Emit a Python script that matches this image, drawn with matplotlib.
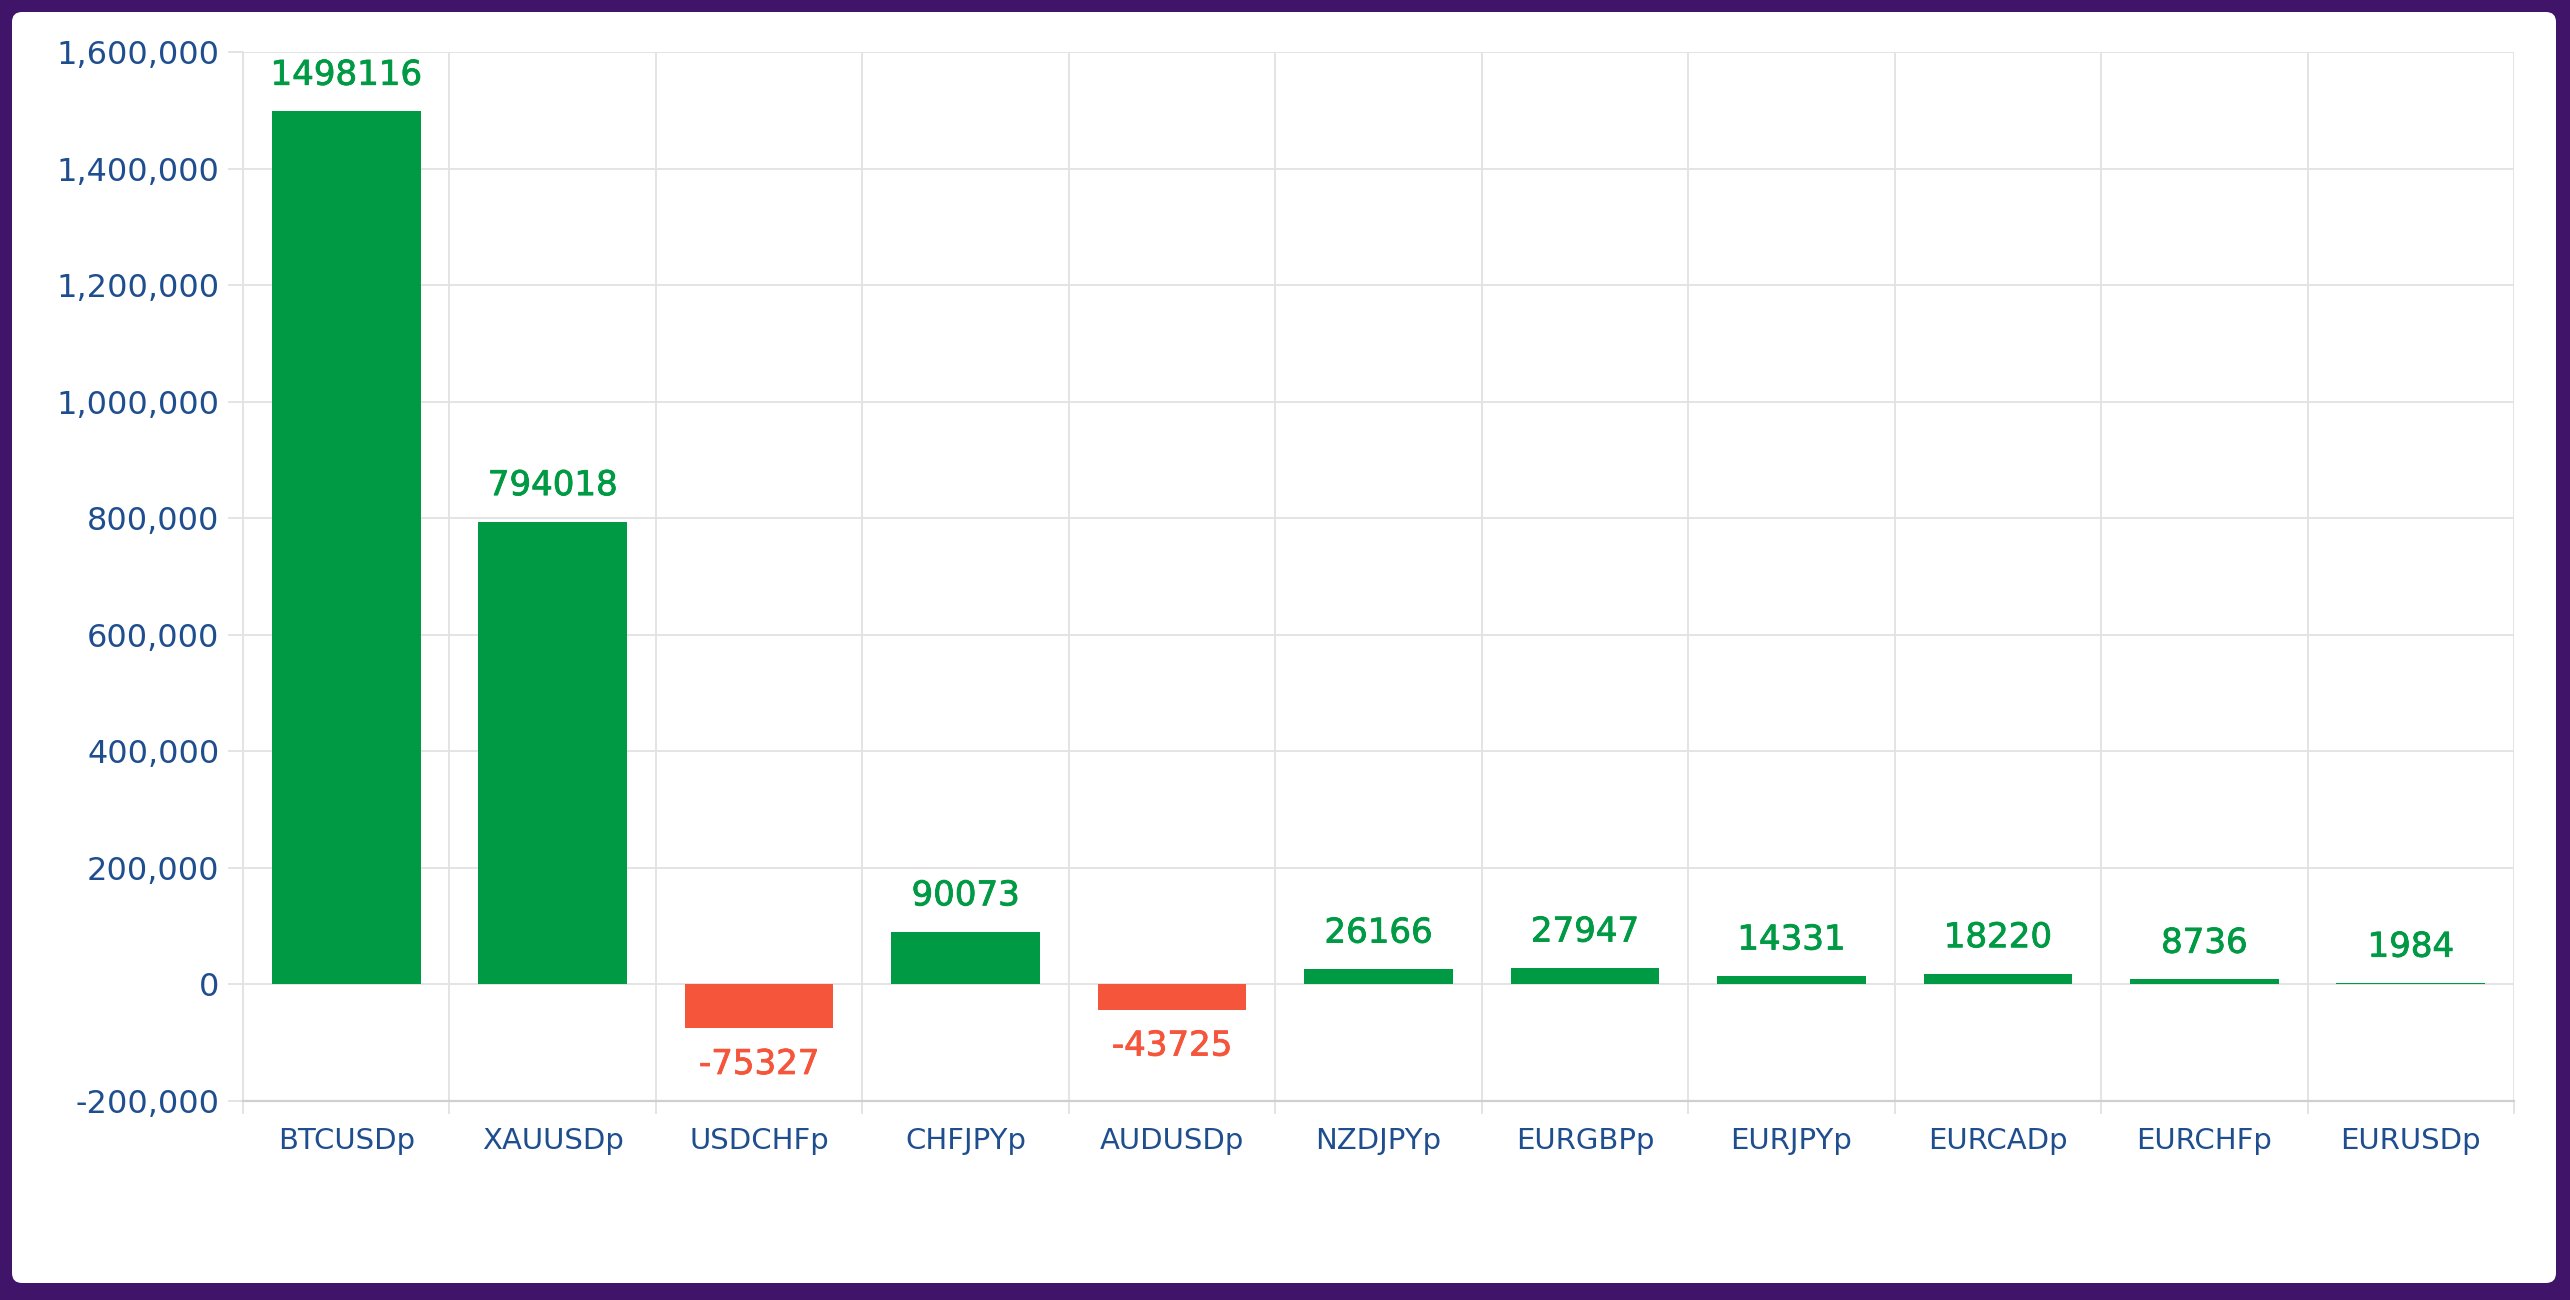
import matplotlib.pyplot as plt
import matplotlib.patheffects as pe
from matplotlib.patches import FancyBboxPatch
from matplotlib.ticker import FuncFormatter

# 数据
symbols = ['BTCUSDp', 'XAUUSDp', 'USDCHFp', 'CHFJPYp', 'AUDUSDp', 'NZDJPYp',
           'EURGBPp', 'EURJPYp', 'EURCADp', 'EURCHFp', 'EURUSDp']
profits = [1498116, 794018, -75327, 90073, -43725, 26166,
           27947, 14331, 18220, 8736, 1984]
y_ticks = [-200000, 0, 200000, 400000, 600000, 800000,
           1000000, 1200000, 1400000, 1600000]

green = '#009944'
red = '#F4553B'
label_blue = '#1F4E8F'
grid_gray = '#E2E2E2'

fig = plt.figure(figsize=(25.7, 13), dpi=100)
fig.patch.set_facecolor('#401468')
# 白色圆角面板（像素坐标）
panel = FancyBboxPatch((12, 17), 2556 - 12, 1288 - 17,
                       boxstyle='round,pad=0,rounding_size=10',
                       transform=None, facecolor='white',
                       edgecolor='none', zorder=-10)
fig.patches.append(panel)

ax = fig.add_axes([243 / 2570, 199 / 1300, (2514 - 243) / 2570, (1248 - 199) / 1300])
ax.set_zorder(5)
ax.set_facecolor('white')

x = list(range(len(symbols)))
colors = [green if v >= 0 else red for v in profits]
ax.bar(x, profits, width=0.72, color=colors, zorder=3)

# 数值标签
for xi, v, c in zip(x, profits, colors):
    off = 26 if v >= 0 else -26
    ax.annotate(str(v), (xi, v), xytext=(0, off), textcoords='offset points',
                ha='center', va='center', color=c, fontsize=24.5,
                family='DejaVu Sans', zorder=4,
                path_effects=[pe.withStroke(linewidth=0.6, foreground=c)])

ax.set_xlim(-0.5, len(symbols) - 0.5)
ax.set_ylim(-200000, 1600000)
ax.set_yticks(y_ticks)
ax.yaxis.set_major_formatter(FuncFormatter(lambda v, p: f'{int(v):,}'))
ax.set_xticks(x)
ax.set_xticklabels(symbols)
ax.set_xticks([i - 0.5 for i in range(len(symbols) + 1)], minor=True)

ax.grid(axis='y', color=grid_gray, linewidth=1.3, zorder=0)
ax.grid(axis='x', which='minor', color=grid_gray, linewidth=1.3, zorder=0)
ax.grid(axis='x', which='major', visible=False)
ax.set_axisbelow(True)

ax.tick_params(axis='x', which='major', length=0, pad=19,
               labelsize=21, labelcolor=label_blue)
ax.tick_params(axis='x', which='minor', length=9, width=1.3, color=grid_gray)
ax.tick_params(axis='y', length=11, width=1.3, color=grid_gray, pad=6,
               labelsize=23, labelcolor=label_blue)
for lab in ax.get_xticklabels() + ax.get_yticklabels():
    lab.set_family('DejaVu Sans')

for s in ['top', 'right']:
    ax.spines[s].set_visible(False)
ax.spines['left'].set_color(grid_gray)
ax.spines['left'].set_linewidth(1.3)
ax.spines['bottom'].set_color('#CFCFCF')
ax.spines['bottom'].set_linewidth(1.6)

fig.savefig('out.png', dpi=100, facecolor=fig.get_facecolor())
